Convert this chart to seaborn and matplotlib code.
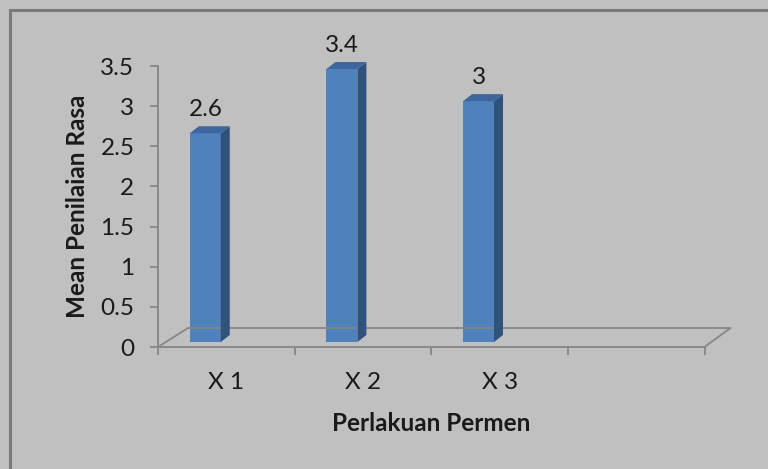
import pandas as pd
import matplotlib.pyplot as plt
from matplotlib.patches import Polygon, Rectangle
from matplotlib.lines import Line2D
from matplotlib.transforms import offset_copy
import seaborn as sns

# data
kategori = ['X 1', 'X 2', 'X 3']
nilai = [2.6, 3.4, 3.0]
label_nilai = ['2.6', '3.4', '3']
y_ticks = [0, 0.5, 1, 1.5, 2, 2.5, 3, 3.5]
y_ticklabels = ['0', '0.5', '1', '1.5', '2', '2.5', '3', '3.5']

df = pd.DataFrame({'Perlakuan': kategori, 'Mean': nilai})

sns.set_style('white')
plt.rcParams['font.family'] = ['Lato', 'DejaVu Sans']

bg = '#C0C0C0'
axis_col = '#868686'
front = '#4F81BD'
side = '#31527A'
top = '#3D679C'
txt = '#1a1a1a'
fs = 17.5

fig = plt.figure(figsize=(7.68, 4.69), dpi=100, facecolor=bg)
ax = fig.add_axes([158 / 768, 122 / 469, 546.5 / 768, 281 / 469])
ax.set_facecolor('none')

sns.barplot(data=df, x='Perlakuan', y='Mean', color=front, width=0.226,
            saturation=1, ax=ax, zorder=3)
ax.set_xlim(-0.5, 3.5)
ax.set_ylim(0, 3.5)

# geser batang ke posisi 3D (sedikit ke kiri & ke atas dari lantai depan)
shift = offset_copy(ax.transData, fig=fig, x=-21, y=5, units='dots')
dx, dy = 9, 7
for p in ax.patches:
    p.set_transform(shift)
    p.set_edgecolor('none')
    x0, y0 = p.get_x(), p.get_y()
    w, h = p.get_width(), p.get_height()
    (xl, yb), (xr, yt) = shift.transform([(x0, y0), (x0 + w, y0 + h)])
    fig.patches.append(Polygon([(xr, yb), (xr + dx, yb + dy), (xr + dx, yt + dy), (xr, yt)],
                               closed=True, transform=None, facecolor=side,
                               edgecolor='none', zorder=4, figure=fig))
    fig.patches.append(Polygon([(xl, yt), (xl + dx, yt + dy), (xr + dx, yt + dy), (xr, yt)],
                               closed=True, transform=None, facecolor=top,
                               edgecolor='none', zorder=4, figure=fig))

# label nilai
for i, (v, t) in enumerate(zip(nilai, label_nilai)):
    ax.annotate(t, (i, v), xytext=(-21, 29), textcoords='offset pixels',
                ha='center', va='center', fontsize=fs, color=txt)

# lantai 3D
(fx0, fy), (fx1, _) = ax.transData.transform([(-0.5, 0), (3.5, 0)])
floor = [(fx0, fy), (fx0 + 30, fy + 19), (fx1 + 26, fy + 19), (fx1, fy)]
fig.lines.append(Line2D([p[0] for p in floor], [p[1] for p in floor],
                        transform=None, color=axis_col, lw=1.3, zorder=2, figure=fig))

# sumbu
for s in ['top', 'right']:
    ax.spines[s].set_visible(False)
for s in ['left', 'bottom']:
    ax.spines[s].set_color(axis_col)
    ax.spines[s].set_linewidth(1.3)

ax.set_yticks(y_ticks)
ax.set_yticklabels(y_ticklabels, fontsize=fs, color=txt)
ax.set_xticks([-0.5, 0.5, 1.5, 2.5, 3.5])
ax.set_xticklabels([])
ax.set_xticks([0, 1, 2], minor=True)
ax.set_xticklabels(kategori, minor=True, fontsize=fs, color=txt)
ax.tick_params(axis='both', which='major', direction='out', length=6, width=1.3,
               color=axis_col, left=True, bottom=True)
ax.tick_params(axis='y', pad=11)
ax.tick_params(axis='x', which='minor', length=0, pad=18)

ax.set_xlabel('Perlakuan Permen', fontsize=fs, fontweight='bold', labelpad=14, color=txt)
ax.set_ylabel('Mean Penilaian Rasa', fontsize=fs, fontweight='bold', labelpad=8, color=txt)

# bingkai grafik
fig.patches.append(Rectangle((10, -20), 800, 469 - 10 + 20, transform=None, fill=False,
                             edgecolor='#7A7A7A', lw=2.2, figure=fig))

fig.savefig('out.png', dpi=100, facecolor=bg)
